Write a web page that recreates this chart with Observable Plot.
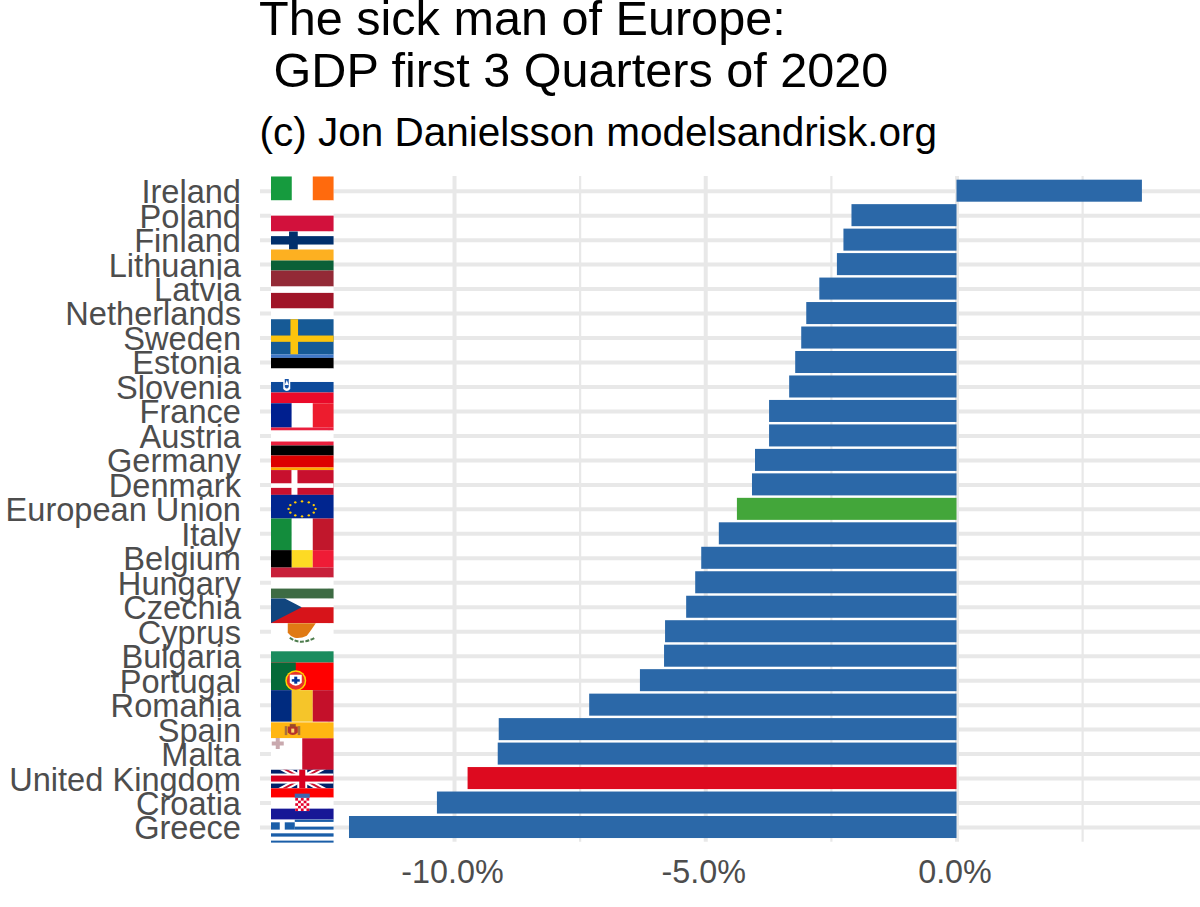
<!DOCTYPE html>
<html>
<head>
<meta charset="utf-8">
<script src="https://cdn.jsdelivr.net/npm/d3@7"></script>
<script src="https://cdn.jsdelivr.net/npm/@observablehq/plot@0.6"></script>
<style>
  html, body { margin: 0; padding: 0; background: #fff; overflow: hidden; }
  body { font-family: "Liberation Sans", Arial, sans-serif; width: 1200px; height: 907px; position: relative; }
  #head { height: 176px; position: relative; color: #000; }
  #head div { position: absolute; white-space: pre; line-height: 0.72; }
  #chart svg { display: block; }
</style>
</head>
<body>
<div id="head">
  <div style="left:259px;top:0.7px;font-size:48.6px">The sick man of Europe:</div>
  <div style="left:260px;top:53px;font-size:48.6px"> GDP first 3 Quarters of 2020</div>
  <div style="left:259.5px;top:118px;font-size:40.5px">(c) Jon Danielsson modelsandrisk.org</div>
</div>
<div id="chart"></div>
<script>
const countries = ["Ireland","Poland","Finland","Lithuania","Latvia","Netherlands","Sweden","Estonia","Slovenia","France","Austria","Germany","Denmark","European Union","Italy","Belgium","Hungary","Czechia","Cyprus","Bulgaria","Portugal","Romania","Spain","Malta","United Kingdom","Croatia","Greece"];
const gdpChange = [3.69,-2.09,-2.25,-2.38,-2.73,-2.99,-3.09,-3.21,-3.33,-3.73,-3.73,-4.01,-4.07,-4.37,-4.73,-5.08,-5.2,-5.38,-5.8,-5.82,-6.3,-7.31,-9.11,-9.13,-9.73,-10.34,-12.09];
const highlight = {"European Union":"EU","United Kingdom":"UK"};
const groups = ["Member","EU","UK"];
const groupColors = ["#2b68a8","#43a63a","#dd0a1f"];
const majorTicks = [-10,-5,0];
const minorTicks = [-12.5,-7.5,-2.5,2.5];
const rows = countries.map((country,i)=>({country,value:gdpChange[i],group:highlight[country]||"Member"}));

// flag artwork, in a small local drawing space centred on each row
const r=(x0,x1,y0,y1,f)=>`<rect x="${x0}" y="${y0}" width="${x1-x0}" height="${y1-y0}" fill="${f}"/>`;
const thirds=(a,b,c,y0,y1)=>r(0,21,y0,y1,a)+r(21,42,y0,y1,b)+r(42,63,y0,y1,c);
const W="#fff";
const stars=()=>{let s="";for(let i=0;i<12;i++){const t=i*Math.PI/6;s+=`<circle cx="${31.3+13.5*Math.sin(t)}" cy="${-0.5-7.5*Math.cos(t)}" r="1.2" fill="#ffcc00"/>`;}return s;};
const checks=()=>{let s=r(24.5,38.5,-5,8,W);for(let i=0;i<5;i++)for(let j=0;j<5;j++)if((i+j)%2==0)s+=r(24.5+i*2.8,27.3+i*2.8,-5+j*2.6,-2.4+j*2.6,"#e4002b");return s;};
const flagArt={
 "Ireland": r(0,63,-14.7,9.3,W)+r(0,21,-14.7,9.3,"#169b3e")+r(42,63,-14.7,9.3,"#ff6a0d"),
 "Poland": r(0,63,-15.2,0,W)+r(0,63,0,15.8,"#d2113c"),
 "Finland": r(0,63,-8.6,9.4,W)+r(0,63,-4,4.4,"#002f6c")+r(18.3,27,-8.6,9.4,"#002f6c"),
 "Lithuania": r(0,63,-15.1,-4.1,"#fdb021")+r(0,63,-4.1,5.9,"#0b6038")+r(0,63,5.9,22,"#932a36"),
 "Latvia": r(0,63,-2.6,3.8,W)+r(0,63,3.8,19.4,"#a01528"),
 "Netherlands": r(0,63,-5,5.7,W),
 "Sweden": r(0,63,-18.8,16.5,"#165a96")+r(0,63,-2.5,3.8,"#fcc40d")+r(19.7,27.3,-18.8,16.5,"#fcc40d"),
 "Estonia": r(0,63,-8,-4.6,"#4078c8")+r(0,63,-4.6,6,"#000")+r(0,63,6,19.5,W),
 "Slovenia": r(0,63,-5,5.5,"#0d4a9b")+r(0,63,5.5,16.2,"#ea0a2a")+`<path d="M12.5,-10 Q16,-12.5 19.5,-10 L19.5,2 Q16,6 12.5,2 Z" fill="#fff"/><path d="M14,-8 L18,-8 L18,0 Q16,3 14,0 Z" fill="#1a55a8"/><path d="M16,-7 L18,-2 L14,-2 Z" fill="#fff"/>`,
 "France": thirds("#001f8f",W,"#ed1c2e",-8.2,16.1),
 "Austria": r(0,63,-8.4,-5.4,"#ea1f3d")+r(0,63,-5.4,5.6,W)+r(0,63,5.6,9.6,"#ea1f3d"),
 "Germany": r(0,63,-14.9,-4.9,"#000")+r(0,63,-4.9,7.1,"#dd0000")+r(0,63,7.1,9.6,"#ffa800"),
 "Denmark": r(0,63,-14.8,10,"#c8102e")+r(0,63,-1.6,3,W)+r(20.7,26.7,-14.8,10,W),
 "European Union": r(0,63,-14.5,9.2,"#00258f")+stars(),
 "Italy": thirds("#138c3c",W,"#c1172c",-15.3,16.2),
 "Belgium": thirds("#000","#fdda24","#ef1c36",-8.2,9.3),
 "Hungary": r(0,63,-15.2,-5.2,"#c8203a")+r(0,63,-5.2,5.8,W)+r(0,63,5.8,16,"#3d6b43"),
 "Czechia": r(0,63,-8.7,0,W)+r(0,63,0,16,"#d7141a")+`<path d="M0,-8.7 L14.1,-8.7 L31,0 L0,16 Z" fill="#11457e"/>`,
 "Cyprus": r(0,63,-8.4,19.6,W)+`<path d="M17,-8.4 L45,-8.4 Q38,2 36,4 Q30,7 24,6 Q20,5 17,1 Z" fill="#e07a14"/><path d="M19,6 Q30,14 44,6" stroke="#4e7d4e" stroke-width="2" stroke-dasharray="4 1.5" fill="none"/>`,
 "Bulgaria": r(0,63,-4.9,6.4,"#1a8c5e"),
 "Portugal": r(0,63,-18.1,9.4,"#ff0000")+r(0,25,-18.1,9.4,"#046a38")+`<circle cx="25" cy="0" r="10.5" fill="#ffd400"/><circle cx="25" cy="0" r="9" fill="#e8322a"/><path d="M19,-6 L31,-6 L31,2 Q25,8 19,2 Z" fill="#fff"/><rect x="23.5" y="-4" width="3" height="7" fill="#003399"/><rect x="21" y="-1.5" width="8" height="2.5" fill="#003399"/>`,
 "Romania": thirds("#002b7f","#f5c52a","#c4102a",-15,16.5),
 "Spain": r(0,63,-7.3,8.7,"#ffb612")+`<rect x="14" y="-3.5" width="2.5" height="9" fill="#a8703a"/><rect x="27" y="-3.5" width="2.5" height="9" fill="#a8703a"/><path d="M17,-3 L27,-3 L27,3 Q22,8 17,3 Z" fill="#b5332a"/><rect x="19" y="-5.5" width="6" height="3" fill="#9a4a28"/><rect x="20.5" y="-1" width="3" height="4" fill="#ffd86b"/>`,
 "Malta": r(0,31.5,-15.8,15.8,W)+r(31.5,63,-15.8,15.8,"#c8102e")+`<path d="M5,-16 L9,-16 L9,-12.5 L13,-12.5 L13,-8.5 L9,-8.5 L9,-5 L5,-5 L5,-8.5 L1,-8.5 L1,-12.5 L5,-12.5 Z" fill="#c9a9ae"/>`,
 "United Kingdom": `<svg x="0" y="-8.7" width="63" height="18.4" viewBox="0 -8.7 63 18.4">`+r(0,63,-17,17,"#012169")+`<path d="M0,-17 L63,17 M63,-17 L0,17" stroke="#fff" stroke-width="6"/><path d="M0,-17 L63,17 M63,-17 L0,17" stroke="#c8102e" stroke-width="2"/>`+r(0,63,-5,5,W)+r(26.5,36.5,-17,17,W)+r(0,63,-3,3,"#d8001f")+r(28.5,34.5,-17,17,"#d8001f")+`</svg>`,
 "Croatia": r(0,63,-14.7,-5.4,"#ff0000")+r(0,63,-5.4,5.6,W)+r(0,63,5.6,16.6,"#171796")+checks()+r(24,39,-9.4,-5.2,"#3a66b0"),
 "Greece": r(0,63,-7.9,15.1,W)+r(24,63,-7.9,-5.6,"#1a5ea8")+r(24,63,-0.9,2.1,"#1a5ea8")+r(0,63,5.8,9.1,"#1a5ea8")+r(0,63,13.1,15.1,"#1a5ea8")+r(0,9,-5.2,2.1,"#1a5ea8")+r(14,24,-5.2,2.1,"#1a5ea8")
};
const flagSrc=c=>"data:image/svg+xml;charset=utf-8,"+encodeURIComponent(`<svg xmlns="http://www.w3.org/2000/svg" viewBox="0 -40 63 80" width="63" height="80">${flagArt[c]}</svg>`);
const flagColumn=-13.03;

const chart = Plot.plot({
  width:1200, height:731,
  marginLeft:260, marginRight:0, marginTop:0, marginBottom:65.3,
  style:{fontFamily:'"Liberation Sans", Arial, sans-serif', background:"#fff", overflow:"visible"},
  x:{domain:[-13.861,4.846], label:null},
  y:{type:"band", domain:countries, paddingInner:0.1, paddingOuter:0.15, align:0.5, round:false, label:null},
  color:{domain:groups, range:groupColors},
  marks:[
    Plot.ruleY(countries,{y:d=>d, stroke:"#e8e8e8", strokeWidth:4}),
    Plot.ruleX(minorTicks,{stroke:"#e8e8e8", strokeWidth:2.2}),
    Plot.ruleX(majorTicks,{stroke:"#e8e8e8", strokeWidth:4}),
    Plot.barX(rows,{x:"value", y:"country", fill:"group"}),
    Plot.image(countries,{x:()=>flagColumn, y:d=>d, src:flagSrc, width:63, height:80}),
    Plot.axisY({anchor:"left", tickSize:0, tickPadding:19.5, fontSize:32.6, fill:"#4d4d4d", label:null, dy:1.5}),
    Plot.axisX({anchor:"bottom", ticks:majorTicks, tickSize:0, tickPadding:18, fontSize:32.3, fill:"#4d4d4d", label:null, dx:-2, tickFormat:d=>d.toFixed(1)+"%"})
  ]
});
document.getElementById("chart").append(chart);
</script>
</body>
</html>
